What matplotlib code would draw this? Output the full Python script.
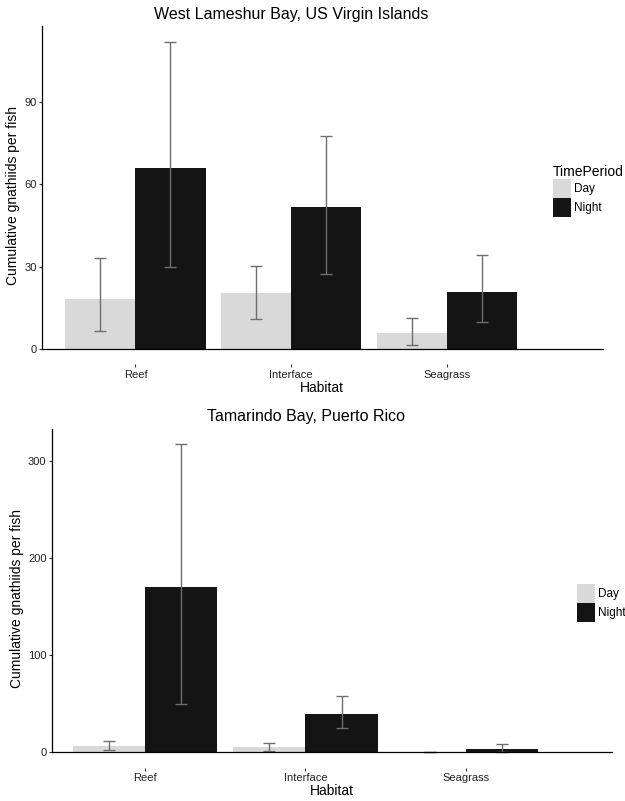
import numpy as np
import matplotlib
matplotlib.use("Agg")
import matplotlib.pyplot as plt

plt.rcParams['font.family'] = ['Liberation Sans', 'DejaVu Sans']

# Datos
habitats = ["Reef", "Interface", "Seagrass"]
periods = ["Day", "Night"]

wl_day = [18.2, 20.4, 5.7]
wl_day_lo = [6.4, 10.8, 1.3]
wl_day_hi = [33.0, 30.1, 11.4]
wl_night = [66.0, 51.6, 20.9]
wl_night_lo = [29.8, 27.3, 10.0]
wl_night_hi = [112.0, 77.7, 34.4]

tb_day = [6.5, 5.1, 0.3]
tb_day_lo = [2.7, 1.7, 0.0]
tb_day_hi = [11.6, 9.3, 0.8]
tb_night = [170.0, 39.7, 3.7]
tb_night_lo = [49.4, 25.0, 0.8]
tb_night_hi = [316.9, 58.2, 8.2]

colors = {"Day": "#d9d9d9", "Night": "#141414"}
W, H = 625, 801


def draw_panel(ax, series, yticks, ylim, xlim):
    x = np.arange(len(habitats))
    width = 0.45
    handles = []
    for i, (name, vals, lo, hi) in enumerate(series):
        pos = x + (i - 0.5) * width
        b = ax.bar(pos, vals, width, color=colors[name], label=name, zorder=2)
        handles.append(b)
        err = [np.array(vals) - np.array(lo), np.array(hi) - np.array(vals)]
        ax.errorbar(pos, vals, yerr=err, fmt='none', ecolor='#6e6e6e',
                    elinewidth=1.0, capsize=4, capthick=1.0, zorder=3)
    ax.set_xlim(*xlim)
    ax.set_ylim(*ylim)
    for s in ax.spines.values():
        s.set_visible(False)
    # ejes dibujados como segmentos (linea en y=0 y eje vertical desde 0)
    ax.plot([xlim[0], xlim[1]], [0, 0], color='black', lw=0.9, zorder=4, clip_on=False)
    ax.plot([xlim[0], xlim[0]], [0, ylim[1]], color='black', lw=0.9, zorder=4, clip_on=False)
    ax.set_xticks(x)
    ax.set_xticklabels(habitats)
    ax.set_yticks(yticks)
    ax.tick_params(axis='both', length=2.2, width=0.8, color='#333333',
                   labelsize=8, labelcolor='#222222', pad=1.5)
    ax.set_xlabel("Habitat", fontsize=10, labelpad=1)
    ax.set_ylabel("Cumulative gnathiids per fish", fontsize=10, labelpad=3)
    return handles


fig = plt.figure(figsize=(W / 100, H / 100), dpi=100)

# Panel superior
ax1 = fig.add_axes([42 / W, 1 - 364.4 / H, 560.7 / W, 338.1 / H])
h1 = draw_panel(ax1,
                [("Day", wl_day, wl_day_lo, wl_day_hi),
                 ("Night", wl_night, wl_night_lo, wl_night_hi)],
                [0, 30, 60, 90], (-5.6, 117.6), (-0.6, 3.0))
fig.text(291 / W, 1 - 14 / H, "West Lameshur Bay, US Virgin Islands",
         ha='center', va='center', fontsize=11.5)
leg1 = ax1.legend(handles=h1, labels=periods, title="TimePeriod",
                  loc='upper left', bbox_to_anchor=(553 / W, 1 - 165 / H),
                  bbox_transform=fig.transFigure, frameon=False, fontsize=8.5,
                  title_fontsize=10, handlelength=1.5, handleheight=2.1,
                  labelspacing=0.0, handletextpad=0.3, borderpad=0,
                  borderaxespad=0, alignment='left')

# Panel inferior
ax2 = fig.add_axes([51.7 / W, 1 - 767.7 / H, 560.6 / W, 338.8 / H])
h2 = draw_panel(ax2,
                [("Day", tb_day, tb_day_lo, tb_day_hi),
                 ("Night", tb_night, tb_night_lo, tb_night_hi)],
                [0, 100, 200, 300], (-15.8, 332.7), (-0.58, 2.91))
fig.text(306 / W, 1 - 416 / H, "Tamarindo Bay, Puerto Rico",
         ha='center', va='center', fontsize=11.5)
leg2 = ax2.legend(handles=h2, labels=periods,
                  loc='upper left', bbox_to_anchor=(577 / W, 1 - 584 / H),
                  bbox_transform=fig.transFigure, frameon=False, fontsize=8.5,
                  handlelength=1.5, handleheight=2.1,
                  labelspacing=0.0, handletextpad=0.3, borderpad=0,
                  borderaxespad=0)

fig.savefig("out.png", dpi=100)
